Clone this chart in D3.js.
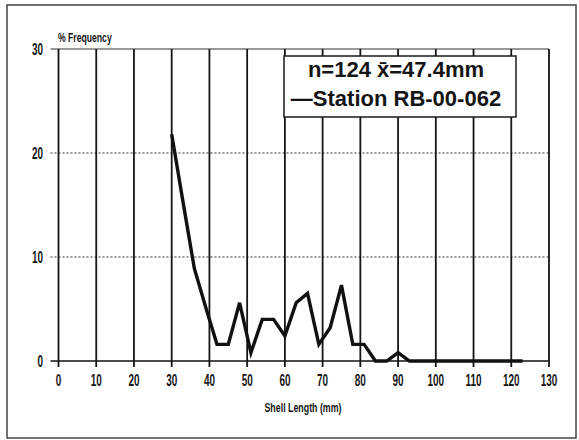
<!DOCTYPE html>
<html>
<head>
<meta charset="utf-8">
<script src="https://cdn.jsdelivr.net/npm/d3@7"></script>
<style>
  html, body { margin: 0; padding: 0; background: #fff; }
  svg { display: block; }
  text { font-family: "Liberation Sans", Arial, sans-serif; font-weight: bold; fill: #151515; }
</style>
</head>
<body>
<svg id="chart" width="579" height="440"></svg>
<script>
// Shell length classes (mm) and percent frequency in each class
const sizeClasses = [30, 33, 36, 39, 42, 45, 48, 51, 54, 57, 60, 63, 66, 69, 72, 75,
                     78, 81, 84, 87, 90, 93, 96, 99, 102, 105, 108, 111, 114, 117, 120, 123];
const pctFrequency = [21.8, 15.3, 8.9, 5.2, 1.6, 1.6, 5.6, 0.8, 4.0, 4.0, 2.4, 5.6, 6.5, 1.6, 3.2, 7.3,
                      1.6, 1.6, 0, 0, 0.8, 0, 0, 0, 0, 0, 0, 0, 0, 0, 0, 0];

const xTicks = [0, 10, 20, 30, 40, 50, 60, 70, 80, 90, 100, 110, 120, 130];
const yTicks = [0, 10, 20, 30];

const yAxisTitle = "% Frequency";
const xAxisTitle = "Shell Length (mm)";
const legendLines = ["n=124 x\u0304=47.4mm", "\u2014Station RB-00-062"];

const svg = d3.select("#chart");

// outer frame
svg.append("rect")
  .attr("x", 7).attr("y", 5).attr("width", 569).attr("height", 433)
  .attr("fill", "#fff").attr("stroke", "#444").attr("stroke-width", 1.5);

const x = d3.scaleLinear().domain([0, 130]).range([58.5, 549]);
const y = d3.scaleLinear().domain([0, 30]).range([361, 49]);

const grid = svg.append("g");

// horizontal grid lines
grid.selectAll("line.h")
  .data(yTicks)
  .join("line")
  .attr("class", "h")
  .attr("x1", x(0) - 8).attr("x2", x(130))
  .attr("y1", d => y(d)).attr("y2", d => y(d))
  .attr("stroke", d => d === 0 ? "#111" : "#333")
  .attr("stroke-width", d => d === 0 ? 1.5 : 1.2)
  .attr("stroke-dasharray", d => (d === 10 || d === 20) ? "2,2" : null);

// vertical grid lines (extend below the baseline as ticks)
grid.selectAll("line.v")
  .data(xTicks)
  .join("line")
  .attr("class", "v")
  .attr("x1", d => x(d)).attr("x2", d => x(d))
  .attr("y1", y(30)).attr("y2", y(0) + 6)
  .attr("stroke", "#151515")
  .attr("stroke-width", 1.8);

// condensed bold tick labels
const narrow = 0.62;
svg.append("g").selectAll("text")
  .data(xTicks)
  .join("text")
  .attr("transform", d => `translate(${x(d)},${386}) scale(${narrow},1)`)
  .attr("text-anchor", "middle")
  .attr("font-size", 16)
  .text(d => d);

svg.append("g").selectAll("text")
  .data(yTicks)
  .join("text")
  .attr("transform", d => `translate(${43},${y(d) + 6}) scale(${narrow},1)`)
  .attr("text-anchor", "end")
  .attr("font-size", 16)
  .text(d => d);

// axis titles
svg.append("text")
  .attr("transform", `translate(58,42) scale(0.72,1)`)
  .attr("font-size", 12)
  .text(yAxisTitle);

svg.append("text")
  .attr("transform", `translate(303,412) scale(0.68,1)`)
  .attr("text-anchor", "middle")
  .attr("font-size", 13)
  .text(xAxisTitle);

// frequency polygon
const line = d3.line()
  .x((d, i) => x(sizeClasses[i]))
  .y(d => y(d));

svg.append("path")
  .datum(pctFrequency)
  .attr("d", line)
  .attr("fill", "none")
  .attr("stroke", "#111")
  .attr("stroke-width", 3.4)
  .attr("stroke-linejoin", "miter");

// legend box
const lg = svg.append("g");
lg.append("rect")
  .attr("x", 284).attr("y", 56).attr("width", 232).attr("height", 61)
  .attr("fill", "#fff").attr("stroke", "#1a1a1a").attr("stroke-width", 1.5);
lg.selectAll("text")
  .data(legendLines)
  .join("text")
  .attr("x", 396)
  .attr("y", (d, i) => 77 + i * 29)
  .attr("text-anchor", "middle")
  .attr("font-size", 22)
  .text(d => d);
</script>
</body>
</html>
